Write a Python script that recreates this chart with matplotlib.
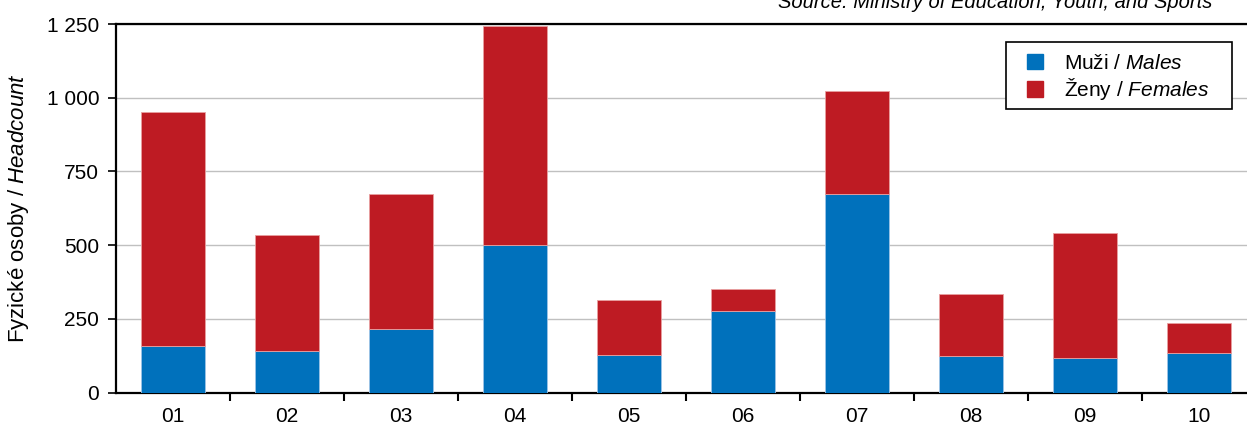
import matplotlib
matplotlib.use("Agg")
import matplotlib.pyplot as plt
import numpy as np
from matplotlib.ticker import FuncFormatter, FixedLocator
from matplotlib.patches import Rectangle, Patch

plt.rcParams['font.family'] = ['Liberation Sans', 'DejaVu Sans']
plt.rcParams['mathtext.fontset'] = 'custom'
plt.rcParams['mathtext.it'] = 'Liberation Sans:italic'
plt.rcParams['mathtext.rm'] = 'Liberation Sans'

categories = ["01", "02", "03", "04", "05", "06", "07", "08", "09", "10"]
males = [157, 143, 216, 500, 127, 276, 672, 123, 116, 134]
totals = [952, 533, 673, 1243, 313, 352, 1022, 333, 543, 235]
females = [t - m for t, m in zip(totals, males)]

blue = "#0071BC"
red = "#BE1B23"
FS = 15
W, H = 1247, 426

fig = plt.figure(figsize=(12.47, 4.26), dpi=100)
ax = fig.add_axes([116/W, 33.3/H, (1256-116)/W, (392.7-24)/H])

x = np.arange(len(categories))
w = 0.57
ax.bar(x, males, w, color=blue, edgecolor="#9EC3E6", linewidth=0.6, zorder=3)
ax.bar(x, females, w, bottom=males, color=red, edgecolor="#E8A0A0", linewidth=0.6, zorder=3)

ax.set_xlim(-0.5, len(categories) - 0.5)
ax.set_ylim(0, 1250)
ax.set_yticks([0, 250, 500, 750, 1000, 1250])
ax.yaxis.set_major_formatter(FuncFormatter(lambda v, p: f"{int(v):,}".replace(",", " ")))
ax.grid(axis="y", color="#C0C0C0", linewidth=1.0, zorder=0)

ax.set_xticks(x)
ax.set_xticklabels(categories)
ax.xaxis.set_minor_locator(FixedLocator(np.arange(0.5, len(categories) - 0.5, 1.0)))
ax.tick_params(axis="x", which="major", length=0, pad=10, labelsize=FS)
ax.tick_params(axis="x", which="minor", length=6, width=1.5, direction="out", color="black")
ax.tick_params(axis="y", which="major", length=6, width=1.2, direction="out", labelsize=FS, pad=6)

for s in ["left", "bottom", "top"]:
    ax.spines[s].set_linewidth(1.6)
    ax.spines[s].set_color("black")
ax.spines["right"].set_visible(False)

ylab = ax.set_ylabel(r"Fyzické osoby / $\it{Headcount}$", fontsize=16)
ylab.set_verticalalignment("center")
ax.yaxis.set_label_coords((19 - 116) / 1140, 0.5)

# legend frame (drawn separately to match the reference box)
fig.add_artist(Rectangle((1006/W, 1 - 109/H), (1232-1006)/W, (109-42)/H, transform=fig.transFigure,
                         facecolor="white", edgecolor="black", linewidth=1.2, zorder=5))
handles = [Patch(facecolor=blue, edgecolor=blue), Patch(facecolor=red, edgecolor=red)]
labels = [r"Muži / $\it{Males}$", r"Ženy / $\it{Females}$"]
leg = fig.legend(handles, labels, loc="upper left", bbox_to_anchor=(1027/W, 1 - 53.5/H),
                 fontsize=FS, frameon=False, handlelength=0.77, handleheight=0.77,
                 handletextpad=1.0, borderpad=0, labelspacing=0.18, borderaxespad=0)
leg.set_zorder(6)

fig.text(1212/W, 1 - 3/H, "Source: Ministry of Education, Youth, and Sports",
         ha="right", va="center", fontsize=14.5, style="italic")

fig.savefig("out.png", dpi=100)
